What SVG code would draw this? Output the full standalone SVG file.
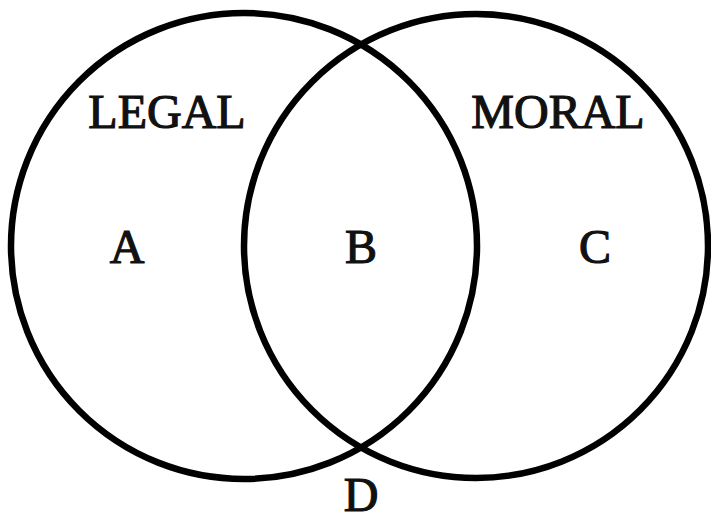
<svg xmlns="http://www.w3.org/2000/svg" width="711" height="518" viewBox="0 0 711 518">
<style>
.c{fill:none;stroke:#000;stroke-width:6.5}
.t{font-family:"Liberation Serif","Times New Roman",serif;font-size:48px;fill:#111;stroke:#111;stroke-width:1.2;text-anchor:middle}
</style>
<rect width="711" height="518" fill="#fff"/>
<g id="legal">
<circle class="c" cx="244" cy="246" r="233"/>
<text class="t" x="167" y="128">LEGAL</text>
</g>
<g id="moral">
<circle class="c" cx="476" cy="246" r="232"/>
<text class="t" x="558" y="128">MORAL</text>
</g>
<g id="labels">
<text class="t" x="127" y="263">A</text>
<text class="t" x="361" y="263">B</text>
<text class="t" x="595" y="263">C</text>
<text class="t" x="361" y="511">D</text>
</g>
<g id="connectors"/>
</svg>
